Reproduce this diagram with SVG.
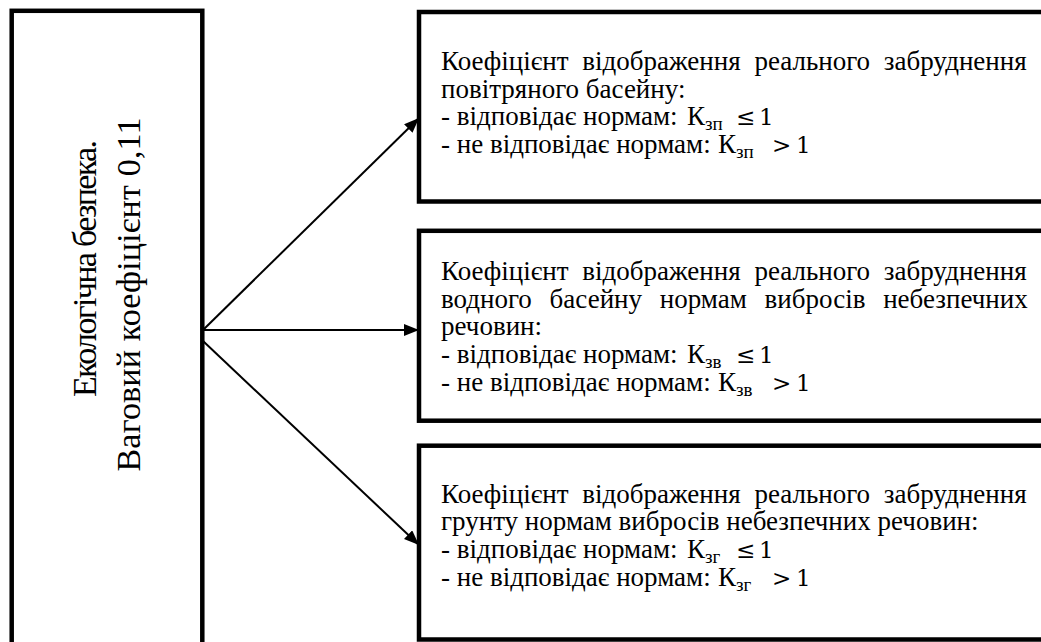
<svg xmlns="http://www.w3.org/2000/svg" width="1041" height="642" viewBox="0 0 1041 642">
<style>
.box{fill:#fff;stroke:#000;stroke-width:4.5}
.t{font-family:'Liberation Serif','Times New Roman',serif;font-size:27px;fill:#000}
.big{font-family:'Liberation Serif','Times New Roman',serif;font-size:34px;fill:#000}
.sub{font-size:19px}
.m{font-family:'DejaVu Serif','Liberation Serif',serif;font-size:23px}
.c{stroke:#000;stroke-width:2;fill:none}
</style>
<defs>
<marker id="ah" markerUnits="userSpaceOnUse" markerWidth="16" markerHeight="12" refX="15" refY="6" orient="auto">
<path d="M0,0 L15,6 L0,12 z" fill="#000"/>
</marker>
</defs>
<rect width="1041" height="642" fill="#fff"/>
<g id="left">
<rect class="box" x="11.7" y="10.8" width="190.6" height="660"/>
<text class="big" text-anchor="middle" textLength="257" lengthAdjust="spacing" transform="translate(96,268.5) rotate(-90)">Екологічна безпека.</text>
<text class="big" text-anchor="middle" textLength="354" lengthAdjust="spacing" transform="translate(140,294.5) rotate(-90)">Ваговий коефіцієнт 0,11</text>
</g>
<g id="connectors">
<line class="c" x1="203" y1="330" x2="419" y2="118" marker-end="url(#ah)"/>
<line class="c" x1="203" y1="330" x2="419" y2="330" marker-end="url(#ah)"/>
<line class="c" x1="203" y1="341" x2="419" y2="545" marker-end="url(#ah)"/>
</g>
<g id="box1">
<rect class="box" x="419" y="12" width="660" height="189.5"/>
<text class="t" x="441" y="70" word-spacing="7">Коефіцієнт відображення реального забруднення</text>
<text class="t" x="441" y="98">повітряного басейну:</text>
<text class="t" x="441" y="125">- відповідає нормам: <tspan x="687">К</tspan><tspan class="sub" dy="5">зп</tspan><tspan class="m" x="736" dy="-5">≤</tspan><tspan class="m" x="759">1</tspan></text>
<text class="t" x="441" y="153">- не відповідає нормам: <tspan x="718">К</tspan><tspan class="sub" dy="5">зп</tspan><tspan class="m" x="772" dy="-5">&gt;</tspan><tspan class="m" x="796">1</tspan></text>
</g>
<g id="box2">
<rect class="box" x="419" y="230.8" width="660" height="189.9"/>
<text class="t" x="441" y="280" word-spacing="7">Коефіцієнт відображення реального забруднення</text>
<text class="t" x="441" y="308" word-spacing="11">водного басейну нормам вибросів небезпечних</text>
<text class="t" x="441" y="335">речовин:</text>
<text class="t" x="441" y="363">- відповідає нормам: <tspan x="687">К</tspan><tspan class="sub" dy="5">зв</tspan><tspan class="m" x="736" dy="-5">≤</tspan><tspan class="m" x="759">1</tspan></text>
<text class="t" x="441" y="391">- не відповідає нормам: <tspan x="718">К</tspan><tspan class="sub" dy="5">зв</tspan><tspan class="m" x="772" dy="-5">&gt;</tspan><tspan class="m" x="796">1</tspan></text>
</g>
<g id="box3">
<rect class="box" x="419" y="445.7" width="660" height="193.8"/>
<text class="t" x="441" y="503" word-spacing="7">Коефіцієнт відображення реального забруднення</text>
<text class="t" x="441" y="530">грунту нормам вибросів небезпечних речовин:</text>
<text class="t" x="441" y="558">- відповідає нормам: <tspan x="687">К</tspan><tspan class="sub" dy="5">зг</tspan><tspan class="m" x="736" dy="-5">≤</tspan><tspan class="m" x="759">1</tspan></text>
<text class="t" x="441" y="586">- не відповідає нормам: <tspan x="718">К</tspan><tspan class="sub" dy="5">зг</tspan><tspan class="m" x="772" dy="-5">&gt;</tspan><tspan class="m" x="796">1</tspan></text>
</g>
</svg>
